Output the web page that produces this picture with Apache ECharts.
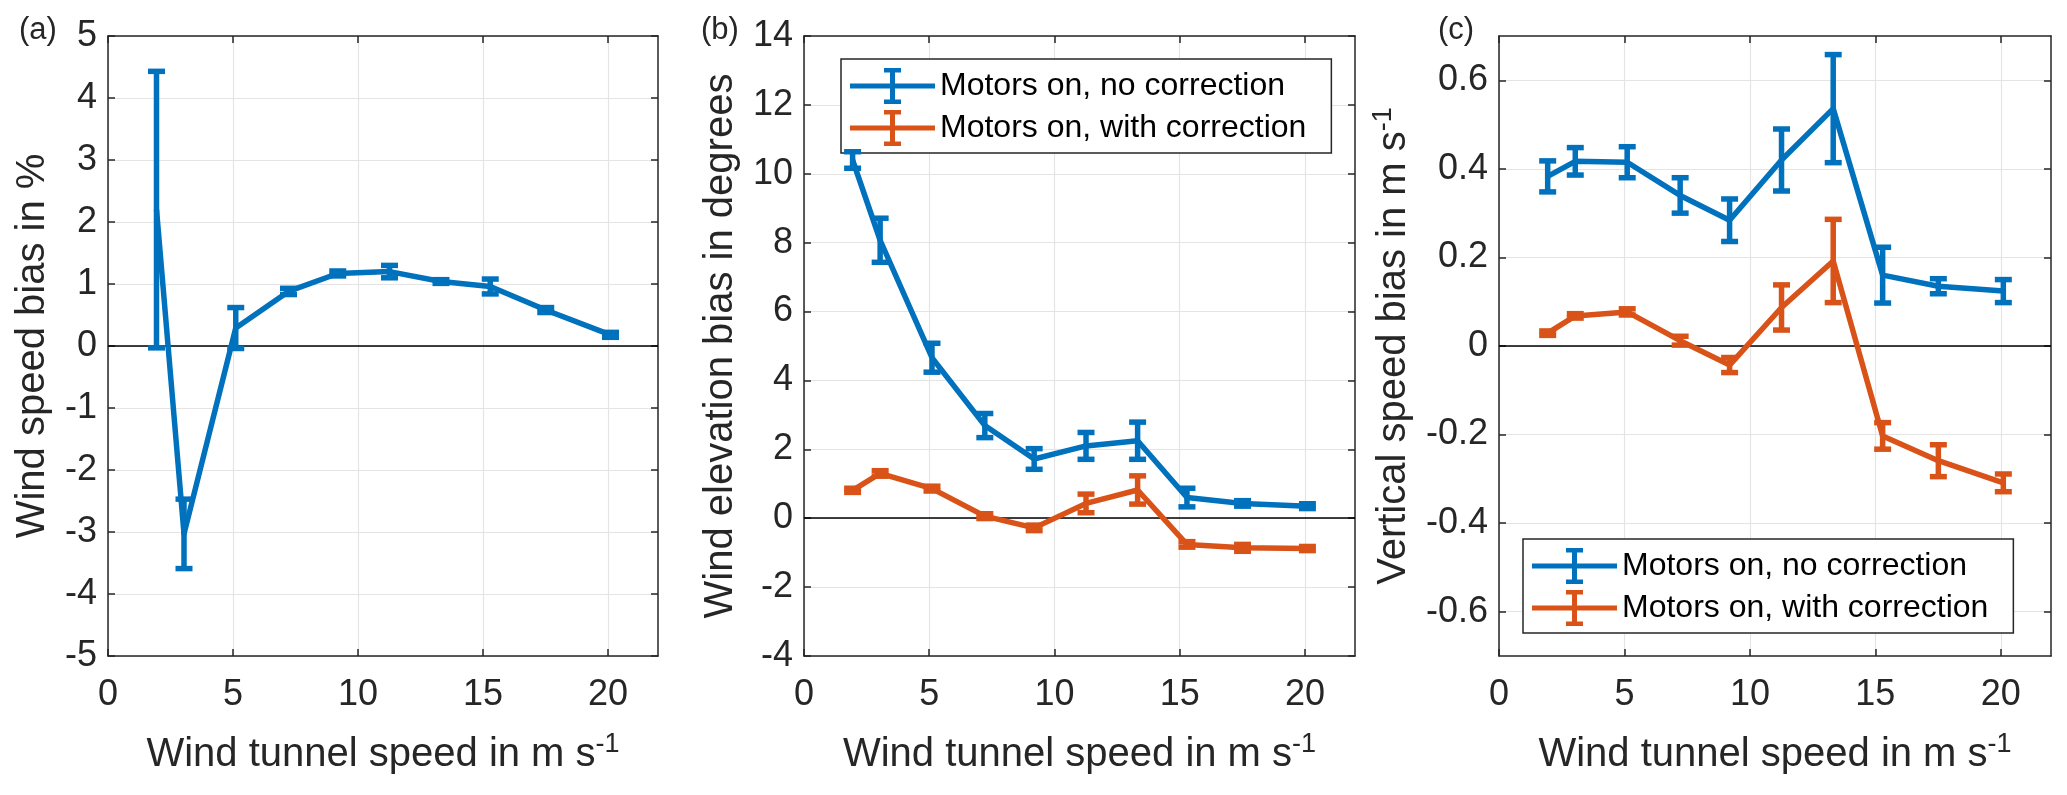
<!DOCTYPE html>
<html>
<head>
<meta charset="utf-8">
<script src="https://cdn.jsdelivr.net/npm/echarts@6/dist/echarts.min.js"></script>
<style>
html,body{margin:0;padding:0;background:#fff;}
#chart{width:2067px;height:795px;}
</style>
</head>
<body>
<div id="chart"></div>
<script>
// ---------------- data ----------------
const speeds = [1.94, 3.04, 5.11, 7.22, 9.19, 11.26, 13.32, 15.29, 17.51, 20.1];

const speedBias    = [2.2, -3.03, 0.29, 0.88, 1.17, 1.2, 1.04, 0.96, 0.58, 0.18];
const speedBiasErr = [2.23, 0.56, 0.33, 0.05, 0.04, 0.1, 0.03, 0.12, 0.04, 0.04];

const elevNoCorr    = [10.4, 8.07, 4.66, 2.69, 1.72, 2.1, 2.25, 0.6, 0.43, 0.35];
const elevNoCorrErr = [0.24, 0.64, 0.42, 0.35, 0.3, 0.39, 0.54, 0.27, 0.08, 0.07];
const elevCorr      = [0.81, 1.3, 0.86, 0.06, -0.28, 0.43, 0.82, -0.76, -0.86, -0.88];
const elevCorrErr   = [0.06, 0.08, 0.07, 0.07, 0.08, 0.27, 0.41, 0.08, 0.1, 0.06];

const vertNoCorr    = [0.383, 0.417, 0.415, 0.34, 0.284, 0.42, 0.536, 0.16, 0.135, 0.124];
const vertNoCorrErr = [0.035, 0.031, 0.035, 0.04, 0.048, 0.07, 0.122, 0.063, 0.017, 0.026];
const vertCorr      = [0.029, 0.068, 0.077, 0.012, -0.043, 0.087, 0.192, -0.203, -0.259, -0.309];
const vertCorrErr   = [0.005, 0.005, 0.007, 0.01, 0.017, 0.051, 0.094, 0.03, 0.036, 0.02];

const xTicks  = [0, 5, 10, 15, 20];
const yTicksA = [-5, -4, -3, -2, -1, 0, 1, 2, 3, 4, 5];
const yTicksB = [-4, -2, 0, 2, 4, 6, 8, 10, 12, 14];
const yTicksC = [-0.6, -0.4, -0.2, 0, 0.2, 0.4, 0.6];

const seriesNames = ['Motors on, no correction', 'Motors on, with correction'];
const panelLabels = ['(a)', '(b)', '(c)'];
const xTitle = 'Wind tunnel speed in m s';
const yTitles = ['Wind speed bias in %', 'Wind elevation bias in degrees', 'Vertical speed bias in m s'];

// ---------------- styling ----------------
const FONT = "'Liberation Sans', Arial, Helvetica, sans-serif";
const BLUE = '#0072BD';
const ORANGE = '#D95319';
const AXIS = '#262626';
const GRIDC = '#e4e4e4';
const LW = 5.5;

const grids = [
  {left: 108, top: 36, width: 550, height: 620},
  {left: 804, top: 36, width: 551, height: 620},
  {left: 1499, top: 36, width: 552, height: 620}
];
const yRanges = [[-5, 5, 1], [-4, 14, 2], [-0.7, 0.7, 0.2]];
const yTickSets = [yTicksA, yTicksB, yTicksC];
const yNameGaps = [51, 59, 81];

const xAxes = [], yAxes = [];
grids.forEach((g, i) => {
  xAxes.push({
    type: 'value', gridIndex: i, min: 0, max: 22, interval: 5, position: 'bottom',
    name: '{m|' + xTitle + '}{s|-1}', nameLocation: 'middle', nameGap: 75,
    nameTextStyle: {
      rich: {
        m: {fontFamily: FONT, fontSize: 40, color: AXIS, lineHeight: 48},
        s: {fontFamily: FONT, fontSize: 27, color: AXIS, lineHeight: 27, verticalAlign: 'top'}
      }
    },
    axisLine: {show: true, onZero: false, lineStyle: {color: AXIS, width: 1.5}},
    axisTick: {show: true, inside: true, length: 7, lineStyle: {color: AXIS, width: 1.5}, customValues: xTicks},
    axisLabel: {show: true, margin: 19, fontFamily: FONT, fontSize: 36, color: AXIS, lineHeight: 40, customValues: xTicks},
    splitLine: {show: true, lineStyle: {color: GRIDC, width: 1.2}, customValues: xTicks}
  });
  xAxes.push({
    type: 'value', gridIndex: i, min: 0, max: 22, interval: 5, position: 'top',
    axisLine: {show: true, onZero: false, lineStyle: {color: AXIS, width: 1.5}},
    axisTick: {show: true, inside: true, length: 7, lineStyle: {color: AXIS, width: 1.5}, customValues: xTicks},
    axisLabel: {show: false},
    splitLine: {show: false}
  });
  const yr = yRanges[i];
  const yt = yTickSets[i];
  yAxes.push({
    type: 'value', gridIndex: i, min: yr[0], max: yr[1], interval: yr[2], position: 'left',
    name: i === 2 ? '{m|' + yTitles[i] + '}{s|-1}' : yTitles[i],
    nameLocation: 'middle', nameRotate: 90, nameGap: yNameGaps[i],
    nameTextStyle: i === 2 ? {
      rich: {
        m: {fontFamily: FONT, fontSize: 40, color: AXIS, lineHeight: 48},
        s: {fontFamily: FONT, fontSize: 27, color: AXIS, lineHeight: 27, verticalAlign: 'top'}
      }
    } : {fontFamily: FONT, fontSize: 40, color: AXIS, lineHeight: 48},
    axisLine: {show: true, onZero: false, lineStyle: {color: AXIS, width: 1.5}},
    axisTick: {show: true, inside: true, length: 7, lineStyle: {color: AXIS, width: 1.5}, customValues: yt},
    axisLabel: {show: true, margin: 11, fontFamily: FONT, fontSize: 36, color: AXIS, customValues: yt},
    splitLine: {show: true, lineStyle: {color: GRIDC, width: 1.2}, customValues: yt}
  });
  yAxes.push({
    type: 'value', gridIndex: i, min: yr[0], max: yr[1], interval: yr[2], position: 'right',
    axisLine: {show: true, onZero: false, lineStyle: {color: AXIS, width: 1.5}},
    axisTick: {show: true, inside: true, length: 7, lineStyle: {color: AXIS, width: 1.5}, customValues: yt},
    axisLabel: {show: false},
    splitLine: {show: false}
  });
});

function lineSeries(name, panel, ys, color, zeroLine) {
  const s = {
    type: 'line', name: name,
    xAxisIndex: panel * 2, yAxisIndex: panel * 2,
    data: speeds.map((x, k) => [x, ys[k]]),
    showSymbol: false, symbol: 'none', z: 3,
    lineStyle: {color: color, width: LW, join: 'round'},
    itemStyle: {color: color},
    emphasis: {disabled: true},
    silent: true, clip: true
  };
  if (zeroLine) {
    s.markLine = {
      silent: true, symbol: 'none', z: 1,
      lineStyle: {color: '#000', width: 1.5, type: 'solid'},
      label: {show: false}, emphasis: {disabled: true},
      data: [{yAxis: 0}]
    };
  }
  return s;
}

function errorSeries(name, panel, ys, es, color) {
  return {
    type: 'custom', name: name,
    xAxisIndex: panel * 2, yAxisIndex: panel * 2,
    data: speeds.map((x, k) => [x, ys[k], es[k]]),
    encode: {x: 0, y: 1},
    z: 4, silent: true, clip: true,
    itemStyle: {color: color},
    renderItem: function (params, api) {
      const x = api.value(0), y = api.value(1), e = api.value(2);
      const top = api.coord([x, y + e]);
      const bot = api.coord([x, y - e]);
      const hw = 8.5;
      const st = {stroke: color, lineWidth: LW, fill: null};
      return {
        type: 'group',
        children: [
          {type: 'line', shape: {x1: top[0], y1: top[1], x2: bot[0], y2: bot[1]}, style: st},
          {type: 'line', shape: {x1: top[0] - hw, y1: top[1], x2: top[0] + hw, y2: top[1]}, style: st},
          {type: 'line', shape: {x1: bot[0] - hw, y1: bot[1], x2: bot[0] + hw, y2: bot[1]}, style: st}
        ]
      };
    }
  };
}

const series = [
  lineSeries('Wind speed bias', 0, speedBias, BLUE, true),
  errorSeries('Wind speed bias error', 0, speedBias, speedBiasErr, BLUE),

  lineSeries(seriesNames[0], 1, elevNoCorr, BLUE, true),
  errorSeries(seriesNames[0] + ' error (b)', 1, elevNoCorr, elevNoCorrErr, BLUE),
  lineSeries(seriesNames[1], 1, elevCorr, ORANGE, false),
  errorSeries(seriesNames[1] + ' error (b)', 1, elevCorr, elevCorrErr, ORANGE),

  lineSeries(seriesNames[0], 2, vertNoCorr, BLUE, true),
  errorSeries(seriesNames[0] + ' error (c)', 2, vertNoCorr, vertNoCorrErr, BLUE),
  lineSeries(seriesNames[1], 2, vertCorr, ORANGE, false),
  errorSeries(seriesNames[1] + ' error (c)', 2, vertCorr, vertCorrErr, ORANGE)
];

// legend icon: horizontal line with an error bar in the middle (85 x 36 box)
const ICON = 'path://M0 15.5H85V20.5H0Z M40 2H45V34H40Z M34 0H51V4.5H34Z M34 31.5H51V36H34Z';
function legendData() {
  return [
    {name: seriesNames[0], icon: ICON, itemStyle: {color: BLUE, borderWidth: 0}},
    {name: seriesNames[1], icon: ICON, itemStyle: {color: ORANGE, borderWidth: 0}}
  ];
}
function legendAt(left, top) {
  return {
    orient: 'vertical', left: left, top: top,
    padding: [9, 25, 7, 9],
    itemWidth: 85, itemHeight: 36, itemGap: 6,
    backgroundColor: '#ffffff', borderColor: AXIS, borderWidth: 1.5, borderRadius: 0,
    selectedMode: false, symbolKeepAspect: false,
    itemStyle: {borderWidth: 0},
    textStyle: {fontFamily: FONT, fontSize: 32, color: '#000', lineHeight: 36},
    data: legendData()
  };
}

const titles = panelLabels.map((t, i) => ({
  text: t, left: [19, 701, 1438][i], top: 12, padding: 0,
  textStyle: {fontFamily: FONT, fontSize: 31, fontWeight: 'normal', color: AXIS, lineHeight: 36}
}));

const chart = echarts.init(document.getElementById('chart'), null, {renderer: 'canvas'});
chart.setOption({
  animation: false,
  backgroundColor: '#ffffff',
  title: titles,
  grid: grids.map(g => Object.assign({containLabel: false}, g)),
  xAxis: xAxes,
  yAxis: yAxes,
  legend: [legendAt(841, 59), legendAt(1523, 539)],
  tooltip: {show: false},
  series: series
});
</script>
</body>
</html>
